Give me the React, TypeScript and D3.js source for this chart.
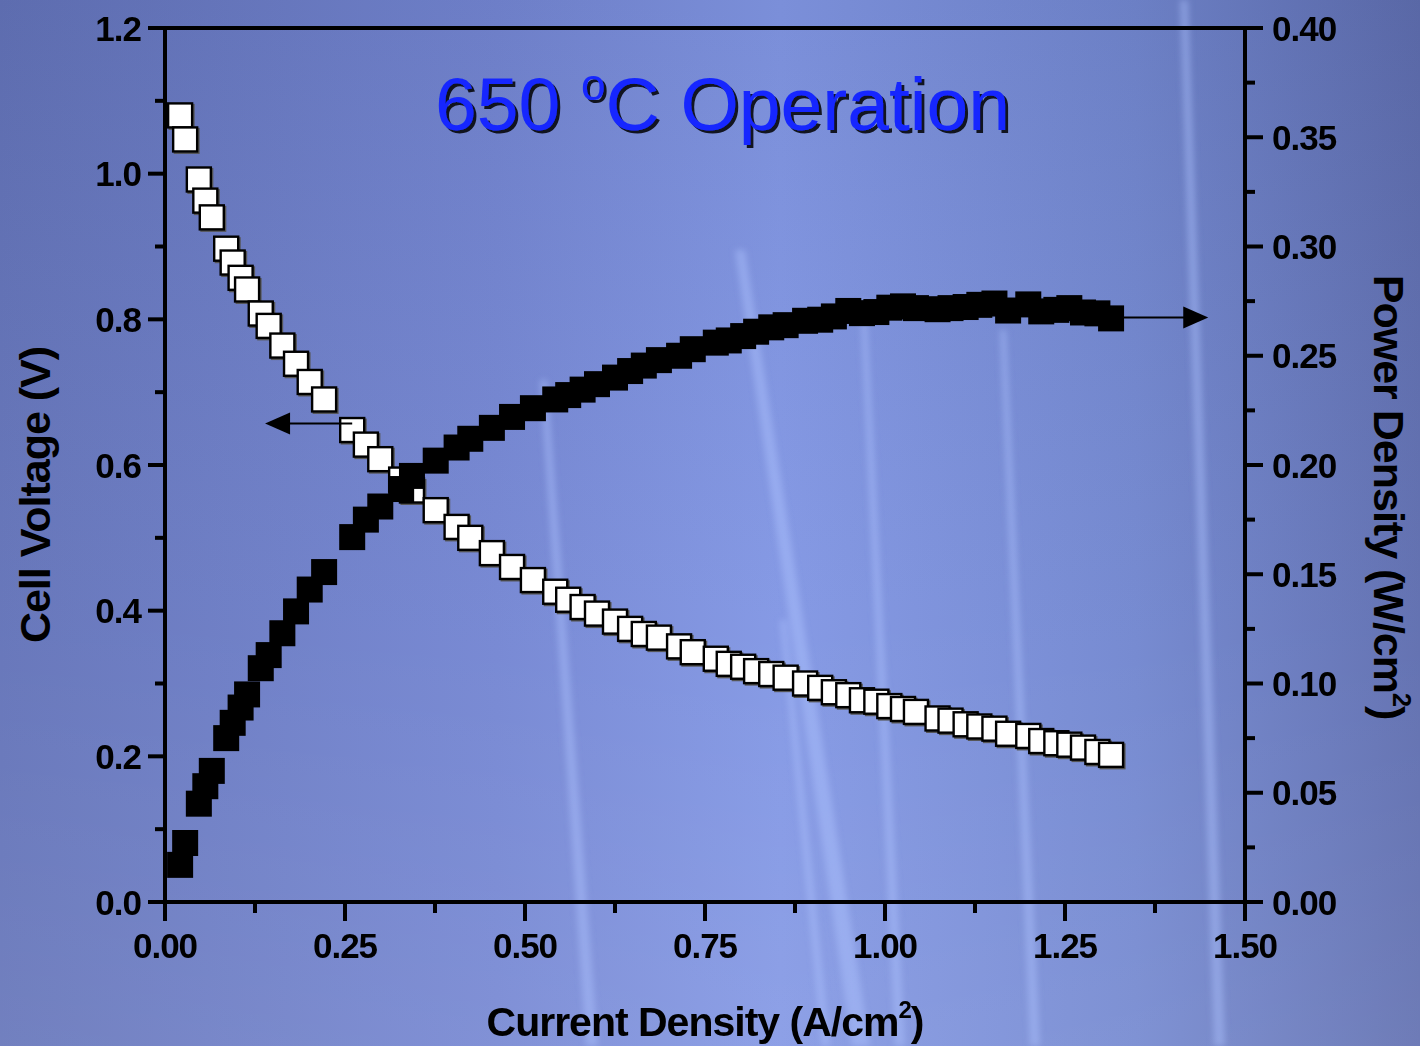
import React from 'react';
import * as d3 from 'd3';

// current density (A/cm2) shared by both series
const current = [
  0.021, 0.028, 0.047, 0.056, 0.065, 0.085, 0.094, 0.105, 0.114, 0.133, 0.144, 0.163, 0.182, 0.201,
  0.221, 0.260, 0.279, 0.299, 0.328, 0.343, 0.376, 0.405, 0.424, 0.454, 0.482, 0.511, 0.542, 0.560,
  0.580, 0.600, 0.625, 0.646, 0.665, 0.686, 0.714, 0.733, 0.765, 0.783, 0.803, 0.821, 0.842, 0.862,
  0.889, 0.910, 0.929, 0.949, 0.968, 0.988, 1.006, 1.025, 1.043, 1.073, 1.091, 1.112, 1.131, 1.152,
  1.171, 1.199, 1.217, 1.238, 1.256, 1.275, 1.295, 1.314
];

const voltage = [
  1.080, 1.047, 0.992, 0.963, 0.940, 0.897, 0.878, 0.857, 0.841, 0.808, 0.791, 0.764, 0.739, 0.714,
  0.690, 0.648, 0.628, 0.608, 0.580, 0.565, 0.538, 0.515, 0.500, 0.479, 0.460, 0.442, 0.426, 0.415,
  0.405, 0.396, 0.385, 0.375, 0.368, 0.363, 0.351, 0.343, 0.334, 0.327, 0.323, 0.317, 0.313, 0.308,
  0.300, 0.294, 0.288, 0.284, 0.277, 0.275, 0.269, 0.265, 0.261, 0.252, 0.249, 0.244, 0.241, 0.238,
  0.231, 0.228, 0.221, 0.218, 0.216, 0.212, 0.206, 0.202
];

const power = [
  0.017, 0.027, 0.045, 0.053, 0.060, 0.075, 0.082, 0.089, 0.095, 0.107, 0.113, 0.123, 0.133, 0.143,
  0.151, 0.167, 0.175, 0.181, 0.189, 0.195, 0.202, 0.208, 0.212, 0.217, 0.222, 0.226, 0.230, 0.232,
  0.2345, 0.237, 0.240, 0.243, 0.2455, 0.248, 0.250, 0.253, 0.256, 0.257, 0.259, 0.261, 0.263, 0.264,
  0.266, 0.2665, 0.268, 0.2705, 0.2695, 0.270, 0.272, 0.2726, 0.2718, 0.2713, 0.2718, 0.2723, 0.2733, 0.2739,
  0.2707, 0.2735, 0.2703, 0.2710, 0.2718, 0.2698, 0.2694, 0.2671
];

const xTicks = [0, 0.25, 0.5, 0.75, 1.0, 1.25, 1.5];
const xTickLabels = ['0.00', '0.25', '0.50', '0.75', '1.00', '1.25', '1.50'];
const xMinor = [0.125, 0.375, 0.625, 0.875, 1.125, 1.375];

const vTicks = [0, 0.2, 0.4, 0.6, 0.8, 1.0, 1.2];
const vTickLabels = ['0.0', '0.2', '0.4', '0.6', '0.8', '1.0', '1.2'];
const vMinor = [0.1, 0.3, 0.5, 0.7, 0.9, 1.1];

const pTicks = [0, 0.05, 0.1, 0.15, 0.2, 0.25, 0.3, 0.35, 0.4];
const pTickLabels = ['0.00', '0.05', '0.10', '0.15', '0.20', '0.25', '0.30', '0.35', '0.40'];
const pMinor = [0.025, 0.075, 0.125, 0.175, 0.225, 0.275, 0.325, 0.375];

// arrows that point each series to its axis
const voltArrow = { x0: 0.26, x1: 0.139, v: 0.657 };
const powerArrow = { x0: 1.314, x1: 1.449, p: 0.2675 };

const W = 1420;
const H = 1046;
const left = 165, right = 1245, top = 28, bottom = 902;

const FONT = '"Liberation Sans", Arial, Helvetica, sans-serif';

export default function App() {
  const x = d3.scaleLinear().domain([0, 1.5]).range([left, right]);
  const yV = d3.scaleLinear().domain([0, 1.2]).range([bottom, top]);
  const yP = d3.scaleLinear().domain([0, 0.4]).range([bottom, top]);

  const sq = 26;
  const wsq = 24;

  // light streaks of the slide background
  const streaks = [
    [735, 250, 745, 250, 870, 1046, 852, 1046],
    [540, 380, 547, 380, 598, 1046, 586, 1046],
    [860, 300, 866, 300, 905, 1046, 895, 1046],
    [1000, 330, 1006, 330, 1040, 1046, 1030, 1046],
    [1180, 0, 1188, 0, 1225, 1046, 1214, 1046],
    [780, 620, 786, 620, 830, 1046, 822, 1046]
  ];

  const headL = x(voltArrow.x1);
  const headR = x(powerArrow.x1);
  const yl = yV(voltArrow.v);
  const yr = yP(powerArrow.p);

  return (
    <svg width={W} height={H} style={{ position: 'absolute', left: 0, top: 0, display: 'block' }}
      fontFamily={FONT}>
      <defs>
        <linearGradient id="bg" x1="0" y1="0" x2="1" y2="0">
          <stop offset="0" stopColor="#6272b8" />
          <stop offset="0.35" stopColor="#7385d2" />
          <stop offset="0.55" stopColor="#8196e4" />
          <stop offset="0.8" stopColor="#7186cf" />
          <stop offset="1" stopColor="#5e6daf" />
        </linearGradient>
        <linearGradient id="bgv" x1="0" y1="0" x2="0" y2="1">
          <stop offset="0" stopColor="#000" stopOpacity="0.05" />
          <stop offset="0.6" stopColor="#fff" stopOpacity="0.04" />
          <stop offset="1" stopColor="#fff" stopOpacity="0.1" />
        </linearGradient>
        <filter id="blur" x="-50%" y="-10%" width="200%" height="120%">
          <feGaussianBlur stdDeviation="3" />
        </filter>
        <filter id="shadow" x="-5%" y="-20%" width="110%" height="140%">
          <feDropShadow dx="3" dy="3" stdDeviation="0.6" floodColor="#000" floodOpacity="0.85" />
        </filter>
      </defs>

      <rect width={W} height={H} fill="url(#bg)" />
      <rect width={W} height={H} fill="url(#bgv)" />
      <g filter="url(#blur)">
        {streaks.map((s, i) => (
          <polygon key={i} points={`${s[0]},${s[1]} ${s[2]},${s[3]} ${s[4]},${s[5]} ${s[6]},${s[7]}`}
            fill="#b0c4ff" opacity={0.45} />
        ))}
      </g>

      {/* title */}
      <text x={435} y={130} fontSize={75} fill="#1428ff" filter="url(#shadow)">
        650 <tspan fontSize={44} dy={-30}>o</tspan><tspan dy={30}>C Operation</tspan>
      </text>

      {/* frame and axes */}
      <g stroke="#000" strokeWidth={4} strokeLinecap="butt">
        <line x1={left - 17} x2={right + 18} y1={top} y2={top} />
        <line x1={left} x2={left} y1={top} y2={bottom + 2} />
        <line x1={left - 2} x2={right + 2} y1={bottom} y2={bottom} />
        <line x1={right} x2={right} y1={top} y2={bottom + 2} />
        {vTicks.map(t => <line key={'v' + t} x1={left - 17} x2={left} y1={yV(t)} y2={yV(t)} />)}
        {vMinor.map(t => <line key={'vm' + t} x1={left - 10} x2={left} y1={yV(t)} y2={yV(t)} />)}
        {xTicks.map(t => <line key={'x' + t} x1={x(t)} x2={x(t)} y1={bottom} y2={bottom + 19} />)}
        {xMinor.map(t => <line key={'xm' + t} x1={x(t)} x2={x(t)} y1={bottom} y2={bottom + 11} />)}
        {pTicks.map(t => <line key={'p' + t} x1={right} x2={right + 18} y1={yP(t)} y2={yP(t)} />)}
        {pMinor.map(t => <line key={'pm' + t} x1={right} x2={right + 10} y1={yP(t)} y2={yP(t)} />)}
      </g>

      <g fontSize={35} fontWeight="bold" fill="#000" letterSpacing={-1}>
        {vTicks.map((t, i) => (
          <text key={'vl' + t} x={left - 24} y={yV(t)} dy="0.36em" textAnchor="end">{vTickLabels[i]}</text>
        ))}
        {xTicks.map((t, i) => (
          <text key={'xl' + t} x={x(t)} y={bottom + 56} textAnchor="middle">{xTickLabels[i]}</text>
        ))}
        {pTicks.map((t, i) => (
          <text key={'pl' + t} x={right + 27} y={yP(t)} dy="0.36em" textAnchor="start">{pTickLabels[i]}</text>
        ))}
      </g>

      {/* axis titles */}
      <g fontWeight="bold" fill="#000" letterSpacing={-1}>
        <text x={705} y={1036} textAnchor="middle" fontSize={41}>
          Current Density (A/cm<tspan fontSize={24} dy={-18}>2</tspan><tspan dy={18}>)</tspan>
        </text>
        <text transform={`translate(50, 495) rotate(-90)`} textAnchor="middle" fontSize={43}>
          Cell Voltage (V)
        </text>
        <text transform={`translate(1374, 497) rotate(90)`} textAnchor="middle" fontSize={43}>
          Power Density (W/cm<tspan fontSize={25} dy={-19}>2</tspan><tspan dy={19}>)</tspan>
        </text>
      </g>

      {/* voltage: open squares */}
      <g>
        {current.map((c, i) => (
          <g key={'w' + i}>
            <rect x={x(c) - wsq / 2 + 1.5} y={yV(voltage[i]) - wsq / 2 + 1.5} width={wsq} height={wsq}
              fill="none" stroke="#555" strokeWidth={2} />
            <rect x={x(c) - wsq / 2} y={yV(voltage[i]) - wsq / 2} width={wsq} height={wsq}
              fill="#fff" stroke="#000" strokeWidth={2.4} />
          </g>
        ))}
      </g>

      {/* power: filled squares */}
      <g>
        {current.map((c, i) => (
          <rect key={'b' + i} x={x(c) - sq / 2} y={yP(power[i]) - sq / 2} width={sq} height={sq} fill="#000" />
        ))}
      </g>

      {/* arrows */}
      <g stroke="#000" strokeWidth={2}>
        <line x1={x(voltArrow.x0)} x2={headL + 24} y1={yl} y2={yl} />
        <line x1={x(powerArrow.x0)} x2={headR - 24} y1={yr} y2={yr} />
      </g>
      <polygon points={`${headL},${yl} ${headL + 25},${yl - 11} ${headL + 25},${yl + 11}`} fill="#000" />
      <polygon points={`${headR},${yr} ${headR - 25},${yr - 11} ${headR - 25},${yr + 11}`} fill="#000" />
    </svg>
  );
}
